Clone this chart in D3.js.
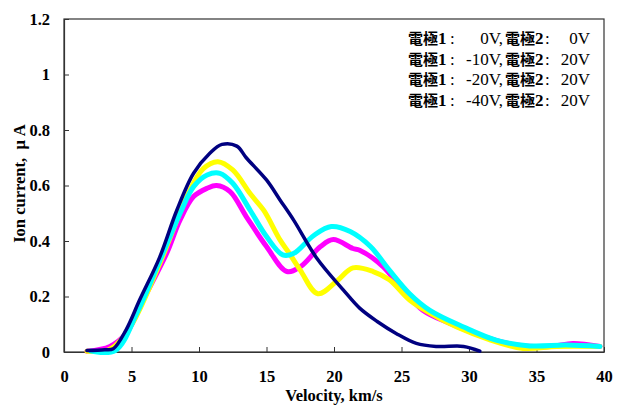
<!DOCTYPE html>
<html>
<head>
<meta charset="utf-8">
<script src="https://cdn.jsdelivr.net/npm/d3@7"></script>
<style>
  body { margin: 0; background: #fff; }
  text { font-family: "Liberation Serif", "Times New Roman", serif; }
</style>
</head>
<body>
<div class="chart"></div>
<script>
// velocity (km/s) / ion current (uA)
var series0V = [
  [1.7, 0.005], [3.0, 0.008], [3.65, 0.012], [4.6, 0.08], [5.6, 0.187], [7.1, 0.343], [8.35, 0.51],
  [9.6, 0.644], [10.8, 0.716], [11.7, 0.748], [12.8, 0.742], [13.5, 0.70],
  [15.0, 0.62], [16.0, 0.548], [17.0, 0.476], [18.7, 0.34], [20.7, 0.223],
  [21.9, 0.158], [23.2, 0.11], [24.6, 0.067], [26.1, 0.031], [27.6, 0.02], [29.6, 0.02],
  [30.8, 0.003]
];
var series10V = [
  [1.7, 0.003], [3.4, 0.02], [4.6, 0.067], [6.1, 0.21], [7.6, 0.355], [8.6, 0.476],
  [9.6, 0.56], [10.6, 0.59], [11.3, 0.60], [12.3, 0.578], [13.5, 0.488], [15.0, 0.38],
  [16.5, 0.29], [17.5, 0.307], [19.0, 0.38], [19.95, 0.405], [21.4, 0.373], [21.9, 0.367],
  [23.65, 0.307], [24.9, 0.235], [26.6, 0.15], [28.6, 0.103], [31.1, 0.055], [33.5, 0.025],
  [36.0, 0.02], [37.7, 0.031], [39.7, 0.02]
];
var series20V = [
  [1.7, 0.003], [3.4, 0.01], [4.9, 0.09], [7.1, 0.32], [9.1, 0.56], [10.3, 0.66],
  [11.4, 0.686], [12.5, 0.656], [13.8, 0.57], [14.8, 0.51], [16.0, 0.404], [16.7, 0.355],
  [17.5, 0.295], [18.8, 0.21], [20.2, 0.255], [21.4, 0.303], [22.9, 0.29], [24.1, 0.26],
  [25.6, 0.187], [27.1, 0.14], [29.1, 0.09], [31.6, 0.043], [34.0, 0.013], [36.5, 0.02],
  [39.7, 0.02]
];
var series40V = [
  [2.0, 0.003], [3.8, 0.005], [5.4, 0.14], [7.1, 0.33], [8.6, 0.5], [9.6, 0.596],
  [10.6, 0.638], [11.55, 0.644], [12.5, 0.608], [13.8, 0.51], [15.0, 0.416], [16.2, 0.35],
  [17.0, 0.355], [18.5, 0.42], [19.8, 0.452], [21.2, 0.434], [22.7, 0.38], [24.1, 0.295],
  [25.6, 0.21], [27.1, 0.15], [29.6, 0.09], [32.0, 0.043], [34.5, 0.022], [37.2, 0.025],
  [39.7, 0.02]
];
var electrode1 = ['0V,', '-10V,', '-20V,', '-40V,'];
var electrode2 = ['0V', '20V', '20V', '20V'];
var xTicks = [0, 5, 10, 15, 20, 25, 30, 35, 40];
var yTicks = [0, 0.2, 0.4, 0.6, 0.8, 1, 1.2];

var margin = { top: 19, right: 14, bottom: 56, left: 64 };
var width = 618 - margin.left - margin.right;
var height = 408 - margin.top - margin.bottom;

var svg = d3.select('.chart')
  .append('svg')
    .attr('width', 618)
    .attr('height', 408)
  .append('g')
    .attr('transform', `translate(${margin.left}, ${margin.top})`);

var xScale = d3.scaleLinear().domain([0, 40]).range([0, width]);
var yScale = d3.scaleLinear().domain([0, 1.2]).range([height, 0]);

// plot frame
svg.append('rect')
  .attr('width', width)
  .attr('height', height)
  .attr('fill', 'none')
  .attr('stroke', '#333')
  .attr('stroke-width', 1.2);

var xAxis = svg.append('g')
  .attr('transform', `translate(0, ${height})`)
  .call(d3.axisBottom(xScale).tickValues(xTicks).tickSizeInner(-5).tickSizeOuter(0).tickPadding(18));
var yAxis = svg.append('g')
  .call(d3.axisLeft(yScale).tickValues(yTicks).tickSizeInner(-5).tickSizeOuter(0).tickPadding(14)
    .tickFormat(d => d3.format('')(+d.toFixed(1))));

[xAxis, yAxis].forEach(function (ax) {
  ax.select('.domain').attr('stroke', '#333').attr('stroke-width', 1.2);
  ax.selectAll('.tick line').attr('stroke', '#333');
  ax.selectAll('.tick text')
    .attr('fill', '#000')
    .style('font-size', '16.5px')
    .style('font-weight', 'bold')
    .style('font-family', '"Liberation Serif", serif');
});

var line = d3.line()
  .x(d => xScale(d[0]))
  .y(d => yScale(d[1]))
  .curve(d3.curveCatmullRom.alpha(0.5));

var lines = [
  { data: series10V, color: '#ff00ff', w: 5 },
  { data: series20V, color: '#ffff00', w: 5 },
  { data: series40V, color: '#00ffff', w: 5 },
  { data: series0V, color: '#000080', w: 3.5 }
];
svg.selectAll('path.series')
  .data(lines)
  .enter()
  .append('path')
    .attr('class', 'series')
    .attr('d', d => line(d.data))
    .attr('fill', 'none')
    .attr('stroke', d => d.color)
    .attr('stroke-width', d => d.w)
    .attr('stroke-linejoin', 'round')
    .attr('stroke-linecap', 'round');

// legend (text only, no swatches), laid out in columns like the original
var legend = svg.append('g')
  .attr('transform', `translate(${408 - margin.left}, ${44 - margin.top})`);
var rows = legend.selectAll('g')
  .data(d3.range(electrode1.length))
  .enter()
  .append('g')
    .attr('transform', i => `translate(0, ${i * 20.7})`);

function label(sel, x, txt, anchor) {
  sel.append('text')
    .attr('x', x)
    .attr('text-anchor', anchor || 'start')
    .style('font-size', '17px')
    .text(txt);
}
function name(sel, x, num) {
  var t = sel.append('text').attr('x', x);
  t.append('tspan')
    .style('font-family', '"Noto Sans CJK JP", sans-serif')
    .style('font-weight', 'bold')
    .style('font-size', '15px')
    .text('電極');
  t.append('tspan')
    .style('font-weight', 'bold')
    .style('font-size', '17px')
    .text(num);
}
rows.each(function (i) {
  var r = d3.select(this);
  name(r, 0, '1');
  label(r, 42, ':');
  label(r, 95, electrode1[i], 'end');
  name(r, 97, '2');
  label(r, 137, ':');
  label(r, 182, electrode2[i], 'end');
});

// axis titles
svg.append('text')
  .attr('x', width / 2)
  .attr('y', height + 49)
  .attr('text-anchor', 'middle')
  .style('font-size', '16.5px')
  .style('font-weight', 'bold')
  .text('Velocity, km/s');

svg.append('text')
  .attr('transform', `translate(${-39}, ${height / 2 - 2}) rotate(-90)`)
  .attr('text-anchor', 'middle')
  .style('font-size', '16.5px')
  .style('font-weight', 'bold')
  .attr('xml:space', 'preserve')
  .text('Ion current,  \u03bc A');
</script>
</body>
</html>
